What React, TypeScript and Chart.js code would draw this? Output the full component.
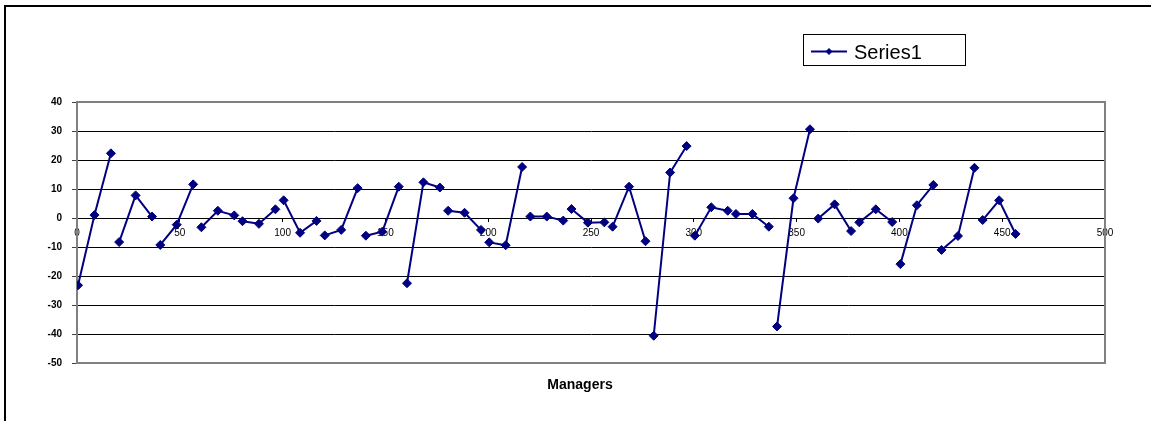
import React, { useEffect, useRef } from "react";
import { Chart, registerables } from "chart.js";

Chart.register(...registerables);

const managerX: number[] = [
  0.5, 8.5, 16.5, 20.5, 28.5, 36.5, 40.5, 48.5, 56.5, 60.5, 68.5, 76.5,
  80.5, 88.5, 96.5, 100.5, 108.5, 116.5, 120.5, 128.5, 136.5, 140.5, 148.5, 156.5,
  160.5, 168.5, 176.5, 180.5, 188.5, 196.5, 200.5, 208.5, 216.5, 220.5, 228.5, 236.5,
  240.5, 248.5, 256.5, 260.5, 268.5, 276.5, 280.5, 288.5, 296.5, 300.5, 308.5, 316.5,
  320.5, 328.5, 336.5, 340.5, 348.5, 356.5, 360.5, 368.5, 376.5, 380.5, 388.5, 396.5,
  400.5, 408.5, 416.5, 420.5, 428.5, 436.5, 440.5, 448.5, 456.5,
];

const series1: number[] = [
  -23.2, 1.0, 22.3, -8.3, 7.8, 0.5, -9.3, -2.3, 11.6, -3.2, 2.5, 0.9,
  -1.1, -2.0, 3.0, 6.1, -5.1, -1.0, -6.0, -4.1, 10.3, -6.1, -4.7, 10.8,
  -22.5, 12.3, 10.5, 2.5, 1.8, -4.1, -8.4, -9.4, 17.6, 0.5, 0.5, -0.9,
  3.1, -1.6, -1.5, -3.0, 10.8, -8.0, -40.6, 15.7, 24.8, -6.1, 3.7, 2.5,
  1.4, 1.4, -3.0, -37.4, 6.8, 30.6, -0.2, 4.7, -4.5, -1.5, 3.0, -1.4,
  -15.9, 4.4, 11.4, -11.0, -6.2, 17.3, -0.7, 6.1, -5.5,
];

const groupSize = 3;
const seriesName = "Series1";
const xTitle = "Managers";
const xMin = 0, xMax = 500, xStep = 50;
const yMin = -50, yMax = 40, yStep = 10;

const FONT = '"Liberation Sans", Arial, sans-serif';
const NAVY = "#000080";

export default function App() {
  const ref = useRef<HTMLCanvasElement | null>(null);

  useEffect(() => {
    document.body.style.margin = "0";
    const canvas = ref.current;
    if (!canvas) return;

    const data: { x: number; y: number | null }[] = [];
    managerX.forEach((x, i) => {
      if (i > 0 && i % groupSize === 0) {
        data.push({ x: (managerX[i - 1] + x) / 2, y: null });
      }
      data.push({ x, y: series1[i] });
    });

    const decor = {
      id: "decor",
      beforeDatasetsDraw(chart: any) {
        const { ctx, chartArea: a } = chart;
        ctx.save();
        ctx.strokeStyle = "#808080";
        ctx.lineWidth = 2;
        ctx.strokeRect(a.left, a.top, a.right - a.left, a.bottom - a.top);
        ctx.restore();
      },
      afterDraw(chart: any) {
        const { ctx } = chart;
        ctx.save();
        // outer frame
        ctx.fillStyle = "#000";
        ctx.fillRect(4, 5, chart.width - 4, 2);
        ctx.fillRect(4, 5, 2, chart.height - 5);
        // legend
        ctx.strokeStyle = "#000";
        ctx.lineWidth = 1;
        ctx.strokeRect(803.5, 34.5, 162, 31);
        ctx.strokeStyle = NAVY;
        ctx.lineWidth = 2;
        ctx.beginPath();
        ctx.moveTo(811, 51.5);
        ctx.lineTo(847, 51.5);
        ctx.stroke();
        ctx.fillStyle = NAVY;
        ctx.beginPath();
        ctx.moveTo(829, 48);
        ctx.lineTo(832.5, 51.5);
        ctx.lineTo(829, 55);
        ctx.lineTo(825.5, 51.5);
        ctx.closePath();
        ctx.fill();
        ctx.fillStyle = "#000";
        ctx.font = `20px ${FONT}`;
        ctx.textAlign = "left";
        ctx.textBaseline = "alphabetic";
        ctx.fillText(seriesName, 854, 59);
        // axis title
        ctx.font = `bold 14px ${FONT}`;
        ctx.textAlign = "center";
        ctx.fillText(xTitle, 580, 389);
        ctx.restore();
      },
    };

    const chart = new Chart(canvas, {
      type: "line",
      data: {
        datasets: [
          {
            label: seriesName,
            data,
            borderColor: NAVY,
            backgroundColor: NAVY,
            borderWidth: 2,
            pointStyle: "rectRot",
            pointRadius: 4.5,
            pointBorderWidth: 1,
            pointBackgroundColor: NAVY,
            pointBorderColor: NAVY,
            spanGaps: false,
            tension: 0,
          },
        ],
      },
      options: {
        responsive: false,
        animation: false,
        layout: { padding: { left: 0, right: 46, top: 102, bottom: 58 } },
        plugins: {
          legend: { display: false },
          tooltip: { enabled: false },
          title: { display: false },
        },
        scales: {
          x: {
            type: "linear",
            position: { y: 0 } as any,
            min: xMin,
            max: xMax,
            ticks: {
              stepSize: xStep,
              font: { family: FONT, size: 10 },
              color: "#000",
              padding: 6,
              maxRotation: 0,
            },
            grid: {
              drawOnChartArea: false,
              drawTicks: true,
              tickLength: 3,
              color: "#000",
            },
            border: { display: true, color: "#000", width: 1 },
          },
          y: {
            type: "linear",
            position: "left",
            min: yMin,
            max: yMax,
            ticks: {
              stepSize: yStep,
              font: { family: FONT, size: 10, weight: "bold" },
              color: "#000",
              padding: 10,
            },
            grid: {
              color: "#000",
              lineWidth: 1,
              tickLength: 5,
              tickColor: "#404040",
            },
            border: { display: true, color: "#808080", width: 2 },
            afterFit(scale: any) {
              scale.width = 77;
            },
          },
        },
      },
      plugins: [decor],
    });

    return () => chart.destroy();
  }, []);

  return (
    <canvas
      ref={ref}
      width={1151}
      height={421}
      style={{ display: "block", width: 1151, height: 421 }}
    />
  );
}
